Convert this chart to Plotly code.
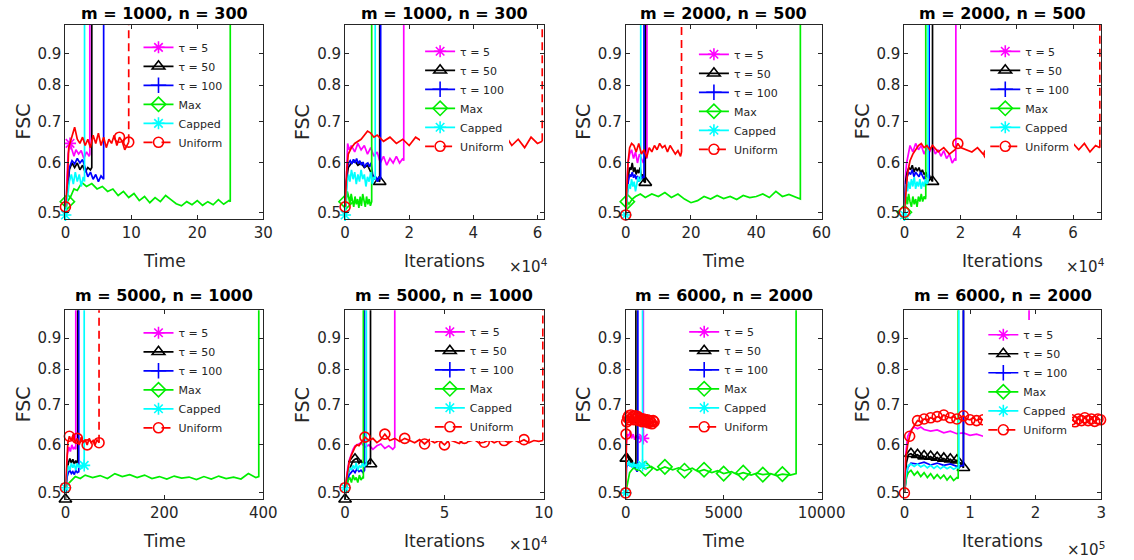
import math
import plotly.graph_objects as go

W, H = 1134, 560

# ------------------------------------------------------------------ data
TITLES = ["m = 1000, n = 300", "m = 1000, n = 300", "m = 2000, n = 500", "m = 2000, n = 500",
          "m = 5000, n = 1000", "m = 5000, n = 1000", "m = 6000, n = 2000", "m = 6000, n = 2000"]
XLABELS = ["Time", "Iterations", "Time", "Iterations", "Time", "Iterations", "Time", "Iterations"]
XMAX = [30, 62000, 60, 70000, 400, 100000, 10000, 300000]
XTICKVALS = [[0, 10, 20, 30], [0, 20000, 40000, 60000], [0, 20, 40, 60], [0, 20000, 40000, 60000],
             [0, 200, 400], [0, 50000, 100000], [0, 5000, 10000], [0, 100000, 200000, 300000]]
XTICKTEXT = [["0", "10", "20", "30"], ["0", "2", "4", "6"], ["0", "20", "40", "60"], ["0", "2", "4", "6"],
             ["0", "200", "400"], ["0", "5", "10"], ["0", "5000", "10000"], ["0", "1", "2", "3"]]
XEXP = [None, "4", None, "4", None, "4", None, "5"]
YTICKS = [0.5, 0.6, 0.7, 0.8, 0.9]
YMIN, YMAX = 0.488, 1.0
SERIES_NAMES = ["\u03c4 = 5", "\u03c4 = 50", "\u03c4 = 100", "Max", "Capped", "Uniform"]

# panel 1 (time)
p1_t5_x = [0, 0.2, 0.4, 0.7, 1.0, 1.3, 1.6, 2.0, 2.4, 2.8, 3.2, 3.6, 3.7, 3.7]
p1_t5_y = [0.5, 0.55, 0.62, 0.645, 0.63, 0.615, 0.63, 0.62, 0.628, 0.61, 0.625, 0.615, 0.62, 1.2]
p1_t50_x = [0, 0.3, 0.6, 1.0, 1.4, 1.8, 2.2, 2.6, 3.0, 3.4, 3.8, 4.0, 4.0]
p1_t50_y = [0.5, 0.55, 0.585, 0.6, 0.59, 0.6, 0.585, 0.595, 0.58, 0.59, 0.585, 0.59, 1.2]
p1_t100_x = [0, 0.3, 0.6, 1.0, 1.4, 1.8, 2.2, 2.6, 3.0, 3.4, 3.8, 4.2, 4.6, 5.0, 5.4, 5.8, 5.8]
p1_t100_y = [0.5, 0.55, 0.59, 0.605, 0.598, 0.61, 0.6, 0.608, 0.59, 0.57, 0.58, 0.565, 0.575, 0.56, 0.572, 0.565, 1.2]
p1_max_x = [0, 0.3, 0.8, 1.3, 1.8, 2.5, 3.2, 4, 4.8, 5.6, 6.4, 7.2, 8, 8.8, 9.6, 10.4, 11.2, 12, 12.8, 13.6,
            14.4, 15.2, 16, 16.8, 17.6, 18.4, 19.2, 20, 20.8, 21.6, 22.4, 23.2, 24, 24.8, 25, 25]
p1_max_y = [0.5, 0.52, 0.53, 0.545, 0.542, 0.558, 0.55, 0.556, 0.545, 0.55, 0.54, 0.545, 0.532, 0.54, 0.528,
            0.536, 0.522, 0.53, 0.518, 0.528, 0.52, 0.532, 0.524, 0.516, 0.512, 0.52, 0.514, 0.522, 0.513, 0.52,
            0.514, 0.524, 0.515, 0.522, 0.52, 1.2]
p1_cap_x = [0, 0.3, 0.6, 0.9, 1.2, 1.5, 1.8, 2.1, 2.4, 2.7, 2.9, 2.9]
p1_cap_y = [0.495, 0.53, 0.56, 0.575, 0.555, 0.58, 0.56, 0.575, 0.55, 0.57, 0.56, 1.2]
p1_uni_x = [0, 0.3, 0.5, 0.8, 1.1, 1.4, 1.8, 2.2, 2.6, 3.0, 3.4, 3.8, 4.2, 4.6, 5.0, 5.4, 5.8, 6.2, 6.6, 7.0,
            7.4, 7.8, 8.2, 8.6, 9.0, 9.6, 9.6]
p1_uni_y = [0.51, 0.56, 0.635, 0.65, 0.665, 0.685, 0.655, 0.645, 0.66, 0.64, 0.655, 0.635, 0.665, 0.645, 0.67,
            0.64, 0.66, 0.635, 0.655, 0.645, 0.665, 0.64, 0.66, 0.65, 0.63, 0.648, 1.2]

# panel 2 (iterations)
p2_t5_x = [0, 300, 800, 1300, 2000, 3000, 4000, 5000, 6000, 7000, 8000, 9000, 10000, 11000, 12000, 13000,
           14000, 15000, 16000, 17000, 18000, 18300, 18300]
p2_t5_y = [0.5, 0.57, 0.645, 0.63, 0.64, 0.625, 0.645, 0.63, 0.64, 0.62, 0.635, 0.615, 0.625, 0.6, 0.615, 0.595,
           0.61, 0.6, 0.615, 0.6, 0.61, 0.605, 1.2]
p2_t50_x = [0, 400, 1000, 2000, 3000, 4000, 5000, 6000, 7000, 8000, 9000, 10000, 10800, 10800]
p2_t50_y = [0.5, 0.56, 0.59, 0.6, 0.605, 0.595, 0.6, 0.59, 0.595, 0.58, 0.57, 0.565, 0.56, 1.2]
p2_t100_x = [0, 300, 700, 1100, 1600, 2100, 2600, 3100, 3600, 4100, 4600, 5100, 5600, 6100, 6600, 7100, 7600,
             8100, 8600, 9100, 9600, 10100, 10600, 11100, 11100]
p2_t100_y = [0.5, 0.55, 0.59, 0.6, 0.605, 0.598, 0.608, 0.6, 0.61, 0.598, 0.605, 0.595, 0.602, 0.59, 0.598, 0.6,
             0.592, 0.6, 0.575, 0.565, 0.57, 0.56, 0.57, 0.565, 1.2]
p2_max_x = [0, 300, 700, 1100, 1500, 1900, 2300, 2700, 3100, 3500, 3900, 4300, 4700, 5100, 5500, 5900, 6300,
            6700, 7100, 7500, 7900, 8300, 8300]
p2_max_y = [0.5, 0.52, 0.54, 0.53, 0.515, 0.535, 0.52, 0.51, 0.53, 0.515, 0.525, 0.508, 0.53, 0.512, 0.535,
            0.52, 0.51, 0.53, 0.515, 0.525, 0.512, 0.52, 1.2]
p2_cap_x = [0, 300, 700, 1100, 1500, 2000, 2500, 3000, 3500, 4000, 4500, 5000, 5500, 6000, 6500, 7000, 7500,
            8000, 8500, 9000, 9400, 9400]
p2_cap_y = [0.495, 0.53, 0.56, 0.575, 0.56, 0.585, 0.565, 0.58, 0.555, 0.575, 0.56, 0.585, 0.565, 0.575, 0.55,
            0.57, 0.56, 0.58, 0.555, 0.57, 0.565, 1.2]
p2_uni_x = [0, 500, 1000, 2000, 3000, 4000, 5000, 6000, 7000, 8000, 9000, 10000, 12000, 14000, 16000, 18000,
            20000, 22000, 24000, 27000, 30000, 33000, 36000, 39000, 42000, 45000, 48000, 50000, 52000, 54000,
            56000, 58000, 60000, 61500, 61500]
p2_uni_y = [0.51, 0.58, 0.62, 0.635, 0.645, 0.65, 0.655, 0.665, 0.675, 0.67, 0.66, 0.665, 0.65, 0.66, 0.645,
            0.655, 0.64, 0.66, 0.65, 0.625, 0.655, 0.63, 0.65, 0.625, 0.645, 0.63, 0.65, 0.665, 0.64, 0.655,
            0.635, 0.66, 0.645, 0.65, 1.2]

# panel 3 (time)
p3_t5_x = [0, 0.3, 0.7, 1.2, 1.8, 2.4, 3.0, 3.6, 4.2, 4.8, 5.4, 6.0, 6.5, 6.5]
p3_t5_y = [0.5, 0.55, 0.6, 0.62, 0.63, 0.61, 0.625, 0.6, 0.62, 0.61, 0.6, 0.615, 0.61, 1.2]
p3_t50_x = [0, 0.4, 0.8, 1.2, 1.6, 2.0, 2.4, 2.8, 3.2, 3.6, 4.0, 4.4, 4.8, 5.2, 5.6, 6.0, 6.0]
p3_t50_y = [0.5, 0.54, 0.57, 0.59, 0.585, 0.6, 0.58, 0.59, 0.575, 0.585, 0.578, 0.59, 0.57, 0.575, 0.56, 0.558, 1.2]
p3_t100_x = [0, 0.4, 0.8, 1.2, 1.6, 2.0, 2.4, 2.8, 3.2, 3.6, 4.0, 4.4, 4.8, 5.2, 5.6, 5.6]
p3_t100_y = [0.5, 0.54, 0.56, 0.575, 0.57, 0.58, 0.568, 0.575, 0.565, 0.572, 0.56, 0.57, 0.565, 0.57, 0.568, 1.2]
p3_max_x = [0, 0.5, 1, 2, 3, 4.5, 6, 8, 10, 12, 14, 16, 18, 20, 22, 24, 26, 28, 30, 32, 34, 36, 38, 40, 42, 44,
            46, 48, 50, 52, 53.5, 53.5]
p3_max_y = [0.5, 0.52, 0.515, 0.525, 0.53, 0.535, 0.528, 0.535, 0.53, 0.538, 0.528, 0.535, 0.525, 0.518, 0.522,
            0.53, 0.525, 0.532, 0.526, 0.53, 0.524, 0.532, 0.528, 0.53, 0.535, 0.528, 0.54, 0.53, 0.534, 0.528,
            0.525, 1.2]
p3_cap_x = [0, 0.3, 0.6, 1.0, 1.4, 1.8, 2.2, 2.6, 3.0, 3.4, 3.8, 4.2, 4.6, 4.6]
p3_cap_y = [0.495, 0.52, 0.54, 0.555, 0.545, 0.565, 0.55, 0.56, 0.54, 0.555, 0.57, 0.56, 0.565, 1.2]
p3_uni_x = [0, 0.3, 0.7, 1.2, 1.8, 2.5, 3.2, 4, 4.8, 5.6, 6.4, 7.2, 8, 8.8, 9.6, 10.4, 11.2, 12, 12.8, 13.6,
            14.4, 15.2, 16, 16.8, 17.1, 17.1]
p3_uni_y = [0.495, 0.53, 0.6, 0.635, 0.645, 0.64, 0.625, 0.645, 0.62, 0.63, 0.612, 0.635, 0.625, 0.64, 0.63,
            0.645, 0.635, 0.64, 0.625, 0.64, 0.63, 0.62, 0.628, 0.615, 0.625, 1.2]

# panel 4 (iterations)
p4_t5_x = [0, 300, 800, 1300, 2000, 3000, 4000, 5000, 6000, 7000, 8000, 9000, 10000, 11000, 12000, 13000,
           14000, 15000, 16000, 17000, 18000, 18300, 18300]
p4_t5_y = [0.5, 0.57, 0.6, 0.62, 0.64, 0.625, 0.645, 0.63, 0.64, 0.62, 0.635, 0.625, 0.64, 0.62, 0.63, 0.615,
           0.628, 0.61, 0.62, 0.6, 0.61, 0.605, 1.2]
p4_t50_x = [0, 400, 1000, 1600, 2200, 2800, 3400, 4000, 4600, 5200, 5800, 6400, 7000, 7600, 8200, 8800, 9400,
            10000, 10000]
p4_t50_y = [0.5, 0.56, 0.58, 0.59, 0.585, 0.595, 0.58, 0.59, 0.582, 0.59, 0.578, 0.585, 0.575, 0.58, 0.57,
            0.575, 0.565, 0.56, 1.2]
p4_t100_x = [0, 400, 1000, 1600, 2200, 2800, 3400, 4000, 4600, 5200, 5800, 6400, 7000, 7600, 8200, 8800, 8800]
p4_t100_y = [0.5, 0.55, 0.57, 0.58, 0.575, 0.585, 0.57, 0.58, 0.575, 0.57, 0.58, 0.572, 0.565, 0.575, 0.57,
             0.568, 1.2]
p4_max_x = [0, 300, 700, 1100, 1500, 2000, 2500, 3000, 3500, 4000, 4500, 5000, 5500, 6000, 6500, 7000, 7500,
            7600, 7600]
p4_max_y = [0.5, 0.52, 0.53, 0.515, 0.535, 0.52, 0.51, 0.53, 0.515, 0.525, 0.51, 0.53, 0.52, 0.535, 0.52, 0.53,
            0.525, 0.53, 1.2]
p4_cap_x = [0, 300, 700, 1100, 1500, 2000, 2500, 3000, 3500, 4000, 4500, 5000, 5500, 6000, 6500, 7000, 7500,
            8000, 8400, 8400]
p4_cap_y = [0.495, 0.53, 0.555, 0.54, 0.56, 0.545, 0.565, 0.55, 0.57, 0.545, 0.56, 0.55, 0.565, 0.545, 0.56,
            0.55, 0.565, 0.555, 0.56, 1.2]
p4_uni_x = [0, 500, 1000, 1500, 2000, 3000, 4000, 5000, 6000, 7000, 8000, 9000, 10000, 12000, 14000, 16000,
            18000, 19000, 20000, 22000, 24000, 26000, 28000, 30000, 33000, 36000, 39000, 42000, 45000, 48000,
            51000, 54000, 56000, 58000, 60000, 62000, 64000, 66000, 68000, 69500, 69500]
p4_uni_y = [0.5, 0.54, 0.57, 0.59, 0.605, 0.62, 0.63, 0.64, 0.645, 0.635, 0.64, 0.63, 0.64, 0.625, 0.635, 0.62,
            0.63, 0.645, 0.635, 0.63, 0.625, 0.635, 0.62, 0.62, 0.63, 0.62, 0.625, 0.615, 0.625, 0.62, 0.63,
            0.62, 0.64, 0.625, 0.645, 0.63, 0.645, 0.625, 0.64, 0.635, 1.2]

# panel 5 (time)
p5_t5_x = [0, 2, 4, 7, 10, 13, 16, 19, 21, 21]
p5_t5_y = [0.5, 0.55, 0.58, 0.595, 0.585, 0.6, 0.59, 0.595, 0.59, 1.2]
p5_t50_x = [0, 3, 6, 9, 12, 15, 18, 21, 24, 25, 25]
p5_t50_y = [0.488, 0.54, 0.56, 0.57, 0.56, 0.568, 0.558, 0.565, 0.56, 0.56, 1.2]
p5_t100_x = [0, 3, 6, 9, 12, 15, 18, 21, 24, 27, 27]
p5_t100_y = [0.5, 0.53, 0.54, 0.545, 0.538, 0.542, 0.536, 0.545, 0.54, 0.542, 1.2]
p5_max_x = [0, 4, 8, 14, 20, 30, 40, 55, 70, 85, 100, 115, 130, 145, 160, 175, 190, 205, 220, 235, 250, 265,
            280, 295, 310, 325, 340, 355, 370, 385, 391, 391]
p5_max_y = [0.505, 0.515, 0.52, 0.525, 0.532, 0.528, 0.535, 0.53, 0.534, 0.528, 0.538, 0.532, 0.536, 0.53,
            0.535, 0.528, 0.532, 0.527, 0.533, 0.529, 0.531, 0.526, 0.532, 0.527, 0.533, 0.528, 0.531, 0.527,
            0.538, 0.53, 0.532, 1.2]
p5_cap_x = [0, 3, 6, 9, 12, 15, 18, 21, 24, 27, 30, 33, 36, 38, 38]
p5_cap_y = [0.51, 0.54, 0.555, 0.545, 0.56, 0.55, 0.558, 0.545, 0.56, 0.55, 0.555, 0.548, 0.56, 0.555, 1.2]
p5_uni_x = [0, 2, 5, 8, 12, 16, 20, 24, 28, 32, 36, 40, 44, 48, 52, 56, 60, 64, 68, 68]
p5_uni_y = [0.51, 0.56, 0.605, 0.62, 0.61, 0.625, 0.605, 0.615, 0.6, 0.618, 0.605, 0.612, 0.6, 0.615, 0.605,
            0.61, 0.6, 0.612, 0.605, 1.2]

# panel 6 (iterations)
p6_t5_x = [0, 1000, 2000, 3000, 4000, 5000, 6000, 8000, 10000, 12000, 14000, 16000, 18000, 20000, 22000, 24000,
           25000, 25000]
p6_t5_y = [0.5, 0.54, 0.565, 0.58, 0.59, 0.598, 0.6, 0.605, 0.595, 0.6, 0.59, 0.598, 0.602, 0.592, 0.598, 0.59,
           0.595, 1.2]
p6_t50_x = [0, 1000, 2000, 3000, 4000, 5000, 6000, 7000, 8000, 9000, 10000, 11000, 12000, 12800, 12800]
p6_t50_y = [0.488, 0.53, 0.545, 0.555, 0.565, 0.568, 0.57, 0.56, 0.565, 0.558, 0.56, 0.555, 0.56, 0.558, 1.2]
p6_t100_x = [0, 1000, 2000, 3000, 4000, 5000, 6000, 7000, 8000, 9000, 9800, 9800]
p6_t100_y = [0.5, 0.52, 0.535, 0.54, 0.545, 0.54, 0.548, 0.542, 0.545, 0.54, 0.545, 1.2]
p6_max_x = [0, 800, 1600, 2400, 3200, 4000, 4800, 5600, 6400, 7200, 8000, 8800, 9200, 9200]
p6_max_y = [0.5, 0.515, 0.525, 0.53, 0.52, 0.535, 0.525, 0.53, 0.52, 0.535, 0.525, 0.53, 0.528, 1.2]
p6_cap_x = [0, 800, 1600, 2400, 3200, 4000, 4800, 5600, 6400, 7200, 8000, 8800, 9600, 10400, 10700, 10700]
p6_cap_y = [0.51, 0.53, 0.54, 0.55, 0.545, 0.555, 0.548, 0.56, 0.545, 0.555, 0.55, 0.56, 0.552, 0.558, 0.555, 1.2]
p6_uni_x = [0, 1000, 2000, 3000, 4000, 5000, 6000, 7000, 8000, 9000, 10000, 12000, 14000, 16000, 18000, 20000,
            22500, 25000, 27500, 30000, 32500, 35000, 37500, 40000, 42500, 45000, 47500, 50000, 52500, 55000,
            57500, 60000, 62500, 65000, 67500, 70000, 72500, 75000, 77500, 80000, 82500, 85000, 87500, 90000,
            92500, 95000, 97500, 99500, 99500]
p6_uni_y = [0.51, 0.54, 0.56, 0.575, 0.585, 0.595, 0.6, 0.598, 0.605, 0.61, 0.618, 0.61, 0.615, 0.605, 0.612,
            0.625, 0.61, 0.615, 0.608, 0.615, 0.61, 0.605, 0.612, 0.602, 0.612, 0.605, 0.61, 0.6, 0.612, 0.608,
            0.603, 0.615, 0.608, 0.612, 0.604, 0.606, 0.612, 0.605, 0.61, 0.61, 0.605, 0.612, 0.606, 0.612,
            0.605, 0.61, 0.608, 0.61, 1.2]

# panel 7 (time)
p7_t5_x = [0, 30, 80, 150, 220, 300, 380, 460, 540, 620, 700, 780, 860, 900, 900]
p7_t5_y = [0.5, 0.6, 0.625, 0.62, 0.63, 0.615, 0.625, 0.612, 0.622, 0.615, 0.62, 0.61, 0.618, 0.615, 1.2]
p7_t50_x = [0, 30, 80, 130, 180, 230, 280, 330, 380, 430, 480, 520, 520]
p7_t50_y = [0.5, 0.57, 0.58, 0.572, 0.565, 0.57, 0.56, 0.565, 0.556, 0.56, 0.552, 0.555, 1.2]
p7_t100_x = [0, 40, 100, 160, 220, 280, 340, 400, 460, 520, 580, 620, 620]
p7_t100_y = [0.5, 0.55, 0.56, 0.555, 0.56, 0.552, 0.555, 0.548, 0.552, 0.545, 0.542, 0.545, 1.2]
p7_max_x = [0, 200, 400, 600, 800, 1000, 1300, 1600, 2000, 2400, 2700, 3000, 3400, 3700, 4000, 4400, 4700,
            5000, 5400, 5700, 6000, 6400, 6700, 7000, 7400, 7700, 8000, 8400, 8700, 8700]
p7_max_y = [0.5, 0.54, 0.55, 0.545, 0.552, 0.548, 0.553, 0.545, 0.552, 0.546, 0.55, 0.544, 0.549, 0.542, 0.546,
            0.54, 0.544, 0.538, 0.542, 0.536, 0.54, 0.535, 0.539, 0.536, 0.538, 0.534, 0.537, 0.535, 0.538, 1.2]
p7_cap_x = [0, 40, 100, 160, 220, 280, 340, 400, 460, 520, 580, 640, 700, 760, 820, 860, 860]
p7_cap_y = [0.5, 0.56, 0.555, 0.565, 0.552, 0.56, 0.55, 0.562, 0.552, 0.558, 0.548, 0.56, 0.55, 0.556, 0.552,
            0.555, 1.2]
p7_uni_x = [0, 20, 50, 100, 150, 200, 260, 320, 380, 440, 500, 560, 620, 680, 740, 800, 860, 920, 980, 1040,
            1100, 1160, 1220, 1280, 1340, 1400, 1450]
p7_uni_y = [0.5, 0.625, 0.655, 0.665, 0.67, 0.66, 0.672, 0.665, 0.668, 0.66, 0.67, 0.664, 0.668, 0.658, 0.664,
            0.66, 0.655, 0.662, 0.658, 0.655, 0.66, 0.652, 0.658, 0.655, 0.65, 0.658, 0.655]

# panel 8 (iterations)
p8_t5_x = [0, 2000, 5000, 10000, 15000, 20000, 25000, 30000, 40000, 50000, 60000, 70000, 80000, 90000, 100000,
           110000, 120000, 130000, 140000, 150000, 160000, 170000, 180000, 190000, 190000]
p8_t5_y = [0.5, 0.58, 0.62, 0.635, 0.642, 0.638, 0.642, 0.636, 0.632, 0.635, 0.628, 0.632, 0.626, 0.628, 0.622,
           0.625, 0.62, 0.622, 0.618, 0.62, 0.615, 0.618, 0.614, 0.615, 1.2]
p8_t50_x = [0, 3000, 6000, 10000, 15000, 20000, 25000, 30000, 35000, 40000, 45000, 50000, 55000, 60000, 65000,
            70000, 75000, 80000, 85000, 90000, 90000]
p8_t50_y = [0.5, 0.56, 0.578, 0.58, 0.575, 0.578, 0.572, 0.575, 0.57, 0.574, 0.568, 0.572, 0.566, 0.57, 0.565,
            0.568, 0.562, 0.566, 0.56, 0.55, 1.2]
p8_t100_x = [0, 5000, 10000, 20000, 30000, 40000, 50000, 60000, 70000, 80000, 90000, 90000]
p8_t100_y = [0.5, 0.55, 0.56, 0.558, 0.562, 0.556, 0.56, 0.555, 0.558, 0.553, 0.555, 1.2]
p8_max_x = [0, 3000, 6000, 10000, 15000, 20000, 25000, 30000, 35000, 40000, 45000, 50000, 55000, 60000, 65000,
            70000, 75000, 80000, 82000, 82000]
p8_max_y = [0.5, 0.53, 0.54, 0.545, 0.535, 0.542, 0.532, 0.54, 0.53, 0.538, 0.528, 0.536, 0.528, 0.535, 0.525,
            0.533, 0.524, 0.53, 0.528, 1.2]
p8_cap_x = [0, 3000, 6000, 10000, 15000, 20000, 25000, 30000, 35000, 40000, 45000, 50000, 55000, 60000, 65000,
            70000, 75000, 80000, 83000, 83000]
p8_cap_y = [0.5, 0.54, 0.555, 0.558, 0.553, 0.558, 0.552, 0.556, 0.55, 0.555, 0.549, 0.554, 0.548, 0.553, 0.548,
            0.552, 0.547, 0.551, 0.55, 1.2]
p8_uni_x = [0, 2000, 5000, 8000, 12000, 16000, 20000, 25000, 30000, 35000, 40000, 45000, 50000, 55000, 60000,
            65000, 70000, 75000, 80000, 85000, 90000, 95000, 100000, 105000, 110000, 115000, 120000, 130000,
            140000, 150000, 160000, 170000, 180000, 190000, 200000, 210000, 220000, 230000, 240000, 250000,
            255000, 260000, 265000, 270000, 275000, 280000, 285000, 290000, 295000, 299000]
p8_uni_y = [0.5, 0.57, 0.6, 0.62, 0.638, 0.648, 0.658, 0.655, 0.662, 0.66, 0.665, 0.662, 0.668, 0.665, 0.672,
            0.668, 0.665, 0.668, 0.662, 0.665, 0.67, 0.662, 0.66, 0.665, 0.658, 0.662, 0.66, 0.662, 0.658, 0.66,
            0.655, 0.66, 0.658, 0.662, 0.656, 0.66, 0.658, 0.655, 0.66, 0.658, 0.66, 0.655, 0.662, 0.658, 0.665,
            0.658, 0.662, 0.656, 0.662, 0.66]

DATA = [
    [(p1_t5_x, p1_t5_y), (p1_t50_x, p1_t50_y), (p1_t100_x, p1_t100_y), (p1_max_x, p1_max_y), (p1_cap_x, p1_cap_y), (p1_uni_x, p1_uni_y)],
    [(p2_t5_x, p2_t5_y), (p2_t50_x, p2_t50_y), (p2_t100_x, p2_t100_y), (p2_max_x, p2_max_y), (p2_cap_x, p2_cap_y), (p2_uni_x, p2_uni_y)],
    [(p3_t5_x, p3_t5_y), (p3_t50_x, p3_t50_y), (p3_t100_x, p3_t100_y), (p3_max_x, p3_max_y), (p3_cap_x, p3_cap_y), (p3_uni_x, p3_uni_y)],
    [(p4_t5_x, p4_t5_y), (p4_t50_x, p4_t50_y), (p4_t100_x, p4_t100_y), (p4_max_x, p4_max_y), (p4_cap_x, p4_cap_y), (p4_uni_x, p4_uni_y)],
    [(p5_t5_x, p5_t5_y), (p5_t50_x, p5_t50_y), (p5_t100_x, p5_t100_y), (p5_max_x, p5_max_y), (p5_cap_x, p5_cap_y), (p5_uni_x, p5_uni_y)],
    [(p6_t5_x, p6_t5_y), (p6_t50_x, p6_t50_y), (p6_t100_x, p6_t100_y), (p6_max_x, p6_max_y), (p6_cap_x, p6_cap_y), (p6_uni_x, p6_uni_y)],
    [(p7_t5_x, p7_t5_y), (p7_t50_x, p7_t50_y), (p7_t100_x, p7_t100_y), (p7_max_x, p7_max_y), (p7_cap_x, p7_cap_y), (p7_uni_x, p7_uni_y)],
    [(p8_t5_x, p8_t5_y), (p8_t50_x, p8_t50_y), (p8_t100_x, p8_t100_y), (p8_max_x, p8_max_y), (p8_cap_x, p8_cap_y), (p8_uni_x, p8_uni_y)],
]

# ------------------------------------------------------------------ style
COLORS = ["#FF00FF", "#000000", "#0000FF", "#00EE00", "#00FFFF", "#FF0000"]
SYMBOLS = ["asterisk-open", "triangle-up-open", "cross-thin-open", "diamond-open", "asterisk-open", "circle-open"]
MSIZE = [10, 11, 11, 11, 10, 10]
# indices of samples that carry a marker (like MATLAB MarkerIndices)
MARKER_IDX = [
    [[3], [], [], [1], [0], [0, 22, 25]],
    [[], [12], [], [1], [0], [0]],
    [[], [15], [], [1], [0], [0]],
    [[], [17], [], [0], [0], [0, 17, 23]],
    [[], [0], [], [], [0, 13], [0, 3, 7, 12, 18]],
    [[], [0, 5, 13], [], [], [0], [0, 10, 15, 19, 23, 27, 31, 35, 39, 43]],
    [[13], [1], [], [5, 8, 11, 14, 17, 20, 23, 26], [0, 15], list(range(27))],
    [[], [3, 5, 7, 9, 11, 13, 15, 17, 19], [], [], [], [0, 3, 6, 8, 10, 12, 14, 16, 18, 20, 22, 24, 26] + list(range(40, 50))],
]
COLS = [(62, 265), (349, 553), (637, 838), (923, 1125)]
ROWS = [(25, 220), (312, 502)]
LEGEND_TXT = [(173, 46), (462, 50), (743, 53), (1042, 50), (173, 333), (472, 332), (733, 332), (1040, 335)]
EXP_Y = [None, 255, None, 255, None, 535, None, 540]
FONT = "DejaVu Sans"
TXT = "#262626"
LW = 1.7

fig = go.Figure()
layout = dict(width=W, height=H, margin=dict(l=0, r=0, t=0, b=0), paper_bgcolor="white",
              plot_bgcolor="white", showlegend=True, font=dict(family=FONT, color=TXT))
annotations = []

for i in range(8):
    suf = "" if i == 0 else str(i + 1)
    col = COLS[i % 4]
    row = ROWS[i // 4]
    xd = [col[0] / W, col[1] / W]
    yd = [1 - row[1] / H, 1 - row[0] / H]
    axcommon = dict(showgrid=False, zeroline=False, showline=True, linecolor=TXT, linewidth=1, mirror="ticks",
                    ticks="inside", ticklen=4, tickcolor=TXT, tickfont=dict(family=FONT, size=15, color=TXT))
    layout["xaxis" + suf] = dict(domain=xd, anchor="y" + suf, range=[0, XMAX[i]], tickvals=XTICKVALS[i],
                                 ticktext=XTICKTEXT[i], **axcommon)
    layout["yaxis" + suf] = dict(domain=yd, anchor="x" + suf, type="log",
                                 range=[math.log10(YMIN), math.log10(YMAX)], tickvals=YTICKS,
                                 ticktext=[str(v) for v in YTICKS], **axcommon)
    xa, ya = "x" + suf, "y" + suf
    lname = "legend" if i == 0 else "legend" + str(i + 1)

    for j, (xs, ys) in enumerate(DATA[i]):
        c = COLORS[j]
        if j == 5 and ys[-1] > YMAX:
            fig.add_trace(go.Scatter(x=xs[:-1], y=ys[:-1], mode="lines", line=dict(color=c, width=LW),
                                     xaxis=xa, yaxis=ya, showlegend=False, hoverinfo="skip"))
            fig.add_trace(go.Scatter(x=xs[-2:], y=ys[-2:], mode="lines",
                                     line=dict(color=c, width=LW, dash="8px,5px"),
                                     xaxis=xa, yaxis=ya, showlegend=False, hoverinfo="skip"))
        else:
            fig.add_trace(go.Scatter(x=xs, y=ys, mode="lines", line=dict(color=c, width=LW),
                                     xaxis=xa, yaxis=ya, showlegend=False, hoverinfo="skip"))
        idx = MARKER_IDX[i][j]
        if idx:
            fig.add_trace(go.Scatter(x=[xs[k] for k in idx], y=[ys[k] for k in idx], mode="markers",
                                     marker=dict(symbol=SYMBOLS[j], size=MSIZE[j], color=c,
                                                 line=dict(color=c, width=1.6)),
                                     xaxis=xa, yaxis=ya, showlegend=False, hoverinfo="skip",
                                     cliponaxis=False))
    # legend entries
    for j in range(6):
        c = COLORS[j]
        fig.add_trace(go.Scatter(x=[None], y=[None], mode="lines+markers", name=SERIES_NAMES[j],
                                 line=dict(color=c, width=LW, dash="dash" if j == 5 else "solid"),
                                 marker=dict(symbol=SYMBOLS[j], size=MSIZE[j], color=c,
                                             line=dict(color=c, width=1.6)),
                                 xaxis=xa, yaxis=ya, legend=lname, hoverinfo="skip"))
    tx, ty = LEGEND_TXT[i]
    layout[lname] = dict(x=(tx - 36) / W, y=1 - (ty - 13) / H, xanchor="left", yanchor="top",
                         bgcolor="white", borderwidth=0, font=dict(family=FONT, size=11, color=TXT),
                         tracegroupgap=0, itemwidth=30, itemclick=False)

    cx = (col[0] + col[1]) / 2
    annotations.append(dict(text="<b>" + TITLES[i] + "</b>", x=cx / W, y=1 - (14 if i < 4 else 297) / H,
                            xref="paper", yref="paper", showarrow=False, xanchor="center", yanchor="middle",
                            font=dict(family=FONT, size=16, color="black")))
    annotations.append(dict(text=XLABELS[i], x=cx / W, y=1 - (row[1] + 42) / H,
                            xref="paper", yref="paper", showarrow=False, xanchor="center", yanchor="middle",
                            font=dict(family=FONT, size=17, color=TXT)))
    annotations.append(dict(text="FSC", x=(col[0] - 44) / W, y=1 - (row[0] + row[1]) / 2 / H, textangle=-90,
                            xref="paper", yref="paper", showarrow=False, xanchor="center", yanchor="middle",
                            font=dict(family=FONT, size=19, color=TXT)))
    if XEXP[i]:
        annotations.append(dict(text="\u00d710<sup>" + XEXP[i] + "</sup>", x=(col[1] + 6) / W,
                                y=1 - EXP_Y[i] / H, xref="paper", yref="paper", showarrow=False,
                                xanchor="right", yanchor="top", font=dict(family=FONT, size=15, color=TXT)))

layout["annotations"] = annotations
fig.update_layout(**layout)
fig.write_html("out.html")
